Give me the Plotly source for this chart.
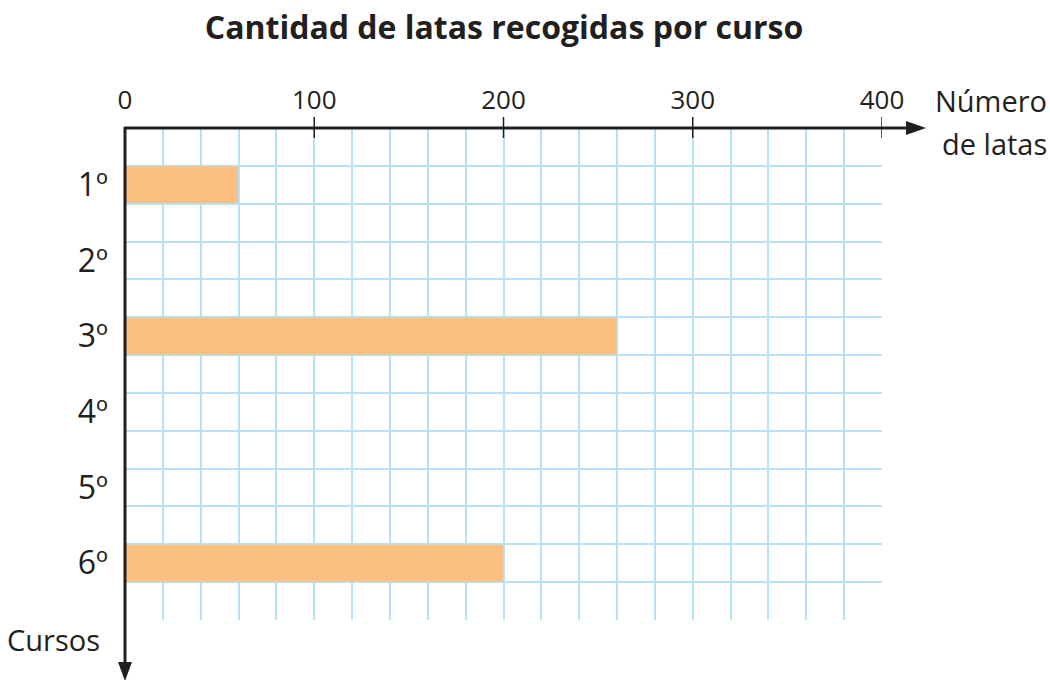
import plotly.graph_objects as go

# Data: cans collected per school year (blank rows are left for the pupil to fill in)
cursos = ["1º", "2º", "3º", "4º", "5º", "6º"]
latas = [60, None, 260, None, None, 200]
x_ticks = [0, 100, 200, 300, 400]

# Canvas and plot-area geometry
W, H = 1050, 680
L, R, T, B = 125, 168, 128, 60
PW, PH = W - L - R, H - T - B
N_ROWS = 13

INK = "#231f20"
GRID = "#b5e2f5"
BAR = "#fbc080"
FONT = "Open Sans"


def px(xp):
    return (xp - L) / PW


def py(yp):
    return (H - B - yp) / PH


# each course sits on every other grid row, starting at the second row
y_pos = [2 * i + 1.5 for i in range(len(cursos))]

fig = go.Figure()
fig.add_trace(go.Bar(
    x=latas, y=y_pos, orientation="h", width=1,
    marker=dict(color=BAR, line=dict(color=GRID, width=1)),
    hoverinfo="x",
))

shapes = [
    # horizontal axis with arrow
    dict(type="line", xref="paper", yref="paper", x0=px(124), x1=px(910),
         y0=1, y1=1, line=dict(color=INK, width=3)),
    dict(type="path", xref="paper", yref="paper",
         path=f"M{px(906)},{py(121)} L{px(926)},{py(128)} L{px(906)},{py(135)} Z",
         fillcolor=INK, line=dict(width=0)),
    # vertical axis with arrow
    dict(type="line", xref="paper", yref="paper", x0=0, x1=0,
         y0=py(127), y1=py(665), line=dict(color=INK, width=3)),
    dict(type="path", xref="paper", yref="paper",
         path=f"M{px(118)},{py(662)} L{px(125)},{py(681)} L{px(132)},{py(662)} Z",
         fillcolor=INK, line=dict(width=0)),
]
# tick marks crossing the horizontal axis
for v in x_ticks[1:]:
    shapes.append(dict(type="line", xref="x", yref="paper", x0=v, x1=v,
                       y0=py(117), y1=py(138), line=dict(color=INK, width=1.5)))

label_font = dict(family=FONT, size=29, color=INK)
annotations = [
    dict(text="Número", xref="paper", yref="paper",
         x=px(1049), y=py(100), xanchor="right", yanchor="middle",
         showarrow=False, font=label_font),
    dict(text="de latas", xref="paper", yref="paper",
         x=px(1049), y=py(144), xanchor="right", yanchor="middle",
         showarrow=False, font=label_font),
    dict(text="Cursos", xref="paper", yref="paper",
         x=px(102), y=py(639), xanchor="right", yanchor="middle",
         showarrow=False, font=label_font),
]

fig.update_layout(
    width=W, height=H,
    margin=dict(l=L, r=R, t=T, b=B),
    plot_bgcolor="white", paper_bgcolor="white",
    showlegend=False,
    title=dict(text="<b>Cantidad de latas recogidas por curso</b>",
               xref="container", x=504 / W, xanchor="center",
               yref="container", y=1 - 28 / H, yanchor="middle",
               font=dict(family=FONT, size=32, color=INK)),
    xaxis=dict(
        range=[0, 400], side="top", tickvals=x_ticks,
        tickfont=dict(family=FONT, size=26, color=INK),
        ticks="", ticklabelstandoff=13,
        showgrid=True, gridcolor=GRID, gridwidth=1.5,
        minor=dict(dtick=20, showgrid=True, gridcolor=GRID, gridwidth=1.5),
        zeroline=False, showline=False, fixedrange=True,
    ),
    yaxis=dict(
        range=[N_ROWS, 0], tickvals=y_pos, ticktext=cursos,
        tickfont=dict(family=FONT, size=32, color=INK),
        ticks="", ticklabelstandoff=16, showgrid=False,
        minor=dict(dtick=1, showgrid=True, gridcolor=GRID, gridwidth=1.5),
        zeroline=False, showline=False, fixedrange=True,
    ),
    shapes=shapes,
    annotations=annotations,
)

fig.write_html("out.html")
